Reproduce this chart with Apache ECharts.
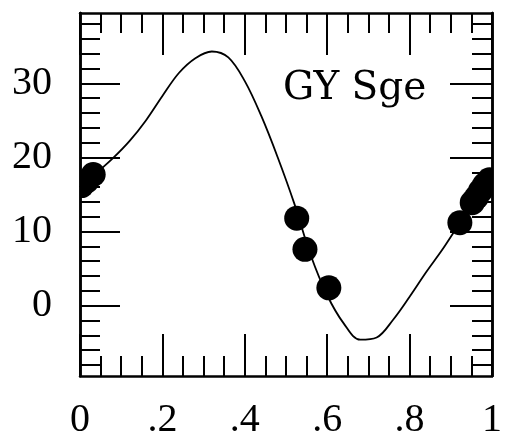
<!DOCTYPE html>
<html>
<head>
<meta charset="utf-8">
<script src="https://cdn.jsdelivr.net/npm/echarts@6/dist/echarts.min.js"></script>
<style>
  html, body { margin: 0; padding: 0; background: #fff; }
  #chart { width: 505px; height: 440px; }
</style>
</head>
<body>
<div id="chart"></div>
<script>
const curveX = [0, 0.04, 0.08, 0.12, 0.16, 0.20, 0.24, 0.28, 0.32, 0.36, 0.40, 0.44, 0.48,
  0.52, 0.56, 0.60, 0.64, 0.68, 0.72, 0.76, 0.80, 0.84, 0.88, 0.92, 0.96, 1.0];
const curveY = [16.0, 17.9, 19.9, 22.2, 25.0, 28.3, 31.4, 33.4, 34.3, 33.5, 30.3, 25.6, 20.0,
  13.8, 6.8, 1.4, -2.4, -4.6, -4.3, -1.9, 1.2, 4.5, 7.6, 11.0, 14.4, 17.3];

// measured points
const pointX = [0.004, 0.016, 0.032, 0.526, 0.546, 0.604, 0.922, 0.952, 0.962, 0.972, 0.982, 0.994];
const pointY = [16.2, 16.8, 17.7, 11.8, 7.6, 2.4, 11.2, 13.9, 14.6, 15.5, 16.3, 17.0];

const yMajorTicks = [0, 10, 20, 30];
const yMinorTicks = [-8, -6, -4, -2, 2, 4, 6, 8, 12, 14, 16, 18, 22, 24, 26, 28, 32, 34, 36, 38];
const labelText = 'GY Sge';

const yMin = -9.5, yMax = 39.5;
const lineCol = '#000';
const fontFam = '"Liberation Serif", "DejaVu Serif", serif';

let myChart = echarts.init(document.getElementById('chart'));

function xAxisDef(pos, showLabel){
    return {
        type: 'value', position: pos, min: 0, max: 1, interval: 0.2,
        axisLine: {show: true, onZero: false, lineStyle: {color: lineCol, width: 2.5}},
        axisTick: {show: true, inside: true, length: 42, lineStyle: {color: lineCol, width: 2}},
        minorTick: {show: true, splitNumber: 4, length: 20, lineStyle: {color: lineCol, width: 2}},
        splitLine: {show: false},
        axisLabel: {
            show: showLabel, margin: 24, color: '#000', fontSize: 40, fontFamily: fontFam,
            formatter: v => {
                const r = Number(v.toFixed(1));
                if(r === 0) return '0';
                if(r === 1) return '1';
                return String(r).replace(/^0/, '');
            }
        }
    };
}

function yAxisDef(pos, ticks, len, showLabel){
    return {
        type: 'value', position: pos, min: yMin, max: yMax,
        axisLine: {show: true, onZero: false, lineStyle: {color: lineCol, width: 2.5}},
        axisTick: {show: true, inside: true, length: len, customValues: ticks, lineStyle: {color: lineCol, width: 2}},
        splitLine: {show: false},
        axisLabel: {
            show: showLabel, customValues: yMajorTicks, margin: 28, color: '#000',
            fontSize: 40, fontFamily: fontFam
        }
    };
}

let option = {
    animation: false,
    backgroundColor: '#fff',
    grid: {left: 80, top: 13, right: 8, bottom: 60},
    xAxis: [xAxisDef('bottom', true), xAxisDef('top', false)],
    yAxis: [
        yAxisDef('left', yMajorTicks, 40, true),
        yAxisDef('left', yMinorTicks, 20, false),
        yAxisDef('right', yMajorTicks, 42, false),
        yAxisDef('right', yMinorTicks, 20, false)
    ],
    graphic: [{
        type: 'text', left: 283, top: 69,
        style: {text: labelText, fill: '#000', fontSize: 39, fontFamily: '"DejaVu Serif", serif'}
    }],
    series: [
        {
            type: 'line',
            data: curveX.map((x, i) => [x, curveY[i]]),
            smooth: 0.35,
            showSymbol: false,
            lineStyle: {color: lineCol, width: 1.8},
            clip: true
        },
        {
            // custom so the dots get cut at the frame like in the original
            type: 'custom',
            data: pointX.map((x, i) => [x, pointY[i]]),
            clip: true,
            renderItem: (params, api) => {
                const p = api.coord([api.value(0), api.value(1)]);
                return {
                    type: 'circle',
                    shape: {cx: p[0], cy: p[1], r: 12.5},
                    style: {fill: '#000'}
                };
            }
        }
    ]
};

myChart.setOption(option);
</script>
</body>
</html>
